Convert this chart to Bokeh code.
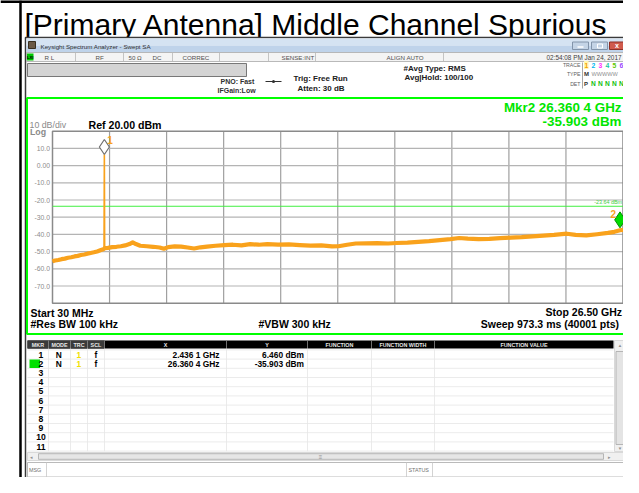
from bokeh.plotting import figure
from bokeh.models import Range1d
from bokeh.core.properties import value
from bokeh.embed import file_html
from bokeh.resources import INLINE

# ------------------------------------------------------------------ data
title_text = "[Primary Antenna] Middle Channel Spurious"
start_ghz = 0.03
stop_ghz = 26.50
ref_level_dbm = 20.0
db_per_div = 10.0
n_div = 10
y_tick_values = [10, 0, -10, -20, -30, -40, -50, -60, -70]
y_tick_labels = ["10.0", "0.00", "-10.0", "-20.0", "-30.0", "-40.0", "-50.0", "-60.0", "-70.0"]

freq_ghz = [0.03, 0.15, 0.3, 0.45, 0.6, 0.75, 0.9, 1.05, 1.2, 1.35, 1.5, 1.65, 1.8, 1.95,
            2.1, 2.25, 2.35, 2.42, 2.4361, 2.45, 2.6, 2.8, 3.0, 3.2, 3.4, 3.6, 3.75, 3.9,
            4.1, 4.4, 4.7, 5.0, 5.2, 5.4, 5.7, 6.0, 6.3, 6.6, 6.9, 7.2, 7.6, 8.0, 8.4, 8.8,
            9.2, 9.6, 10.0, 10.5, 11.0, 11.5, 12.0, 12.5, 13.0, 13.3, 13.7, 14.1, 14.6,
            15.1, 15.6, 16.0, 16.5, 17.0, 17.5, 18.0, 18.5, 18.9, 19.3, 19.8, 20.3, 20.8,
            21.3, 21.8, 22.3, 22.8, 23.3, 23.9, 24.3, 24.8, 25.3, 25.8, 26.1, 26.3604, 26.5]
level_dbm = [-55.6, -55.2, -54.9, -54.4, -54.1, -53.6, -53.3, -52.8, -52.5, -52.0, -51.7, -51.2,
             -50.8, -50.4, -49.9, -49.2, -48.8, -48.4, 6.46, -48.0, -47.8, -47.4, -47.2, -46.9,
             -46.4, -45.6, -44.6, -45.6, -46.6, -46.9, -47.2, -47.6, -48.3, -47.4, -47.0, -47.1,
             -47.6, -48.2, -47.5, -47.1, -46.6, -46.2, -46.0, -46.4, -45.7, -46.0, -45.6, -45.9,
             -45.8, -46.2, -46.5, -46.4, -47.0, -46.9, -46.0, -45.3, -45.2, -45.1, -45.3, -45.0,
             -44.8, -44.3, -43.9, -43.3, -42.7, -42.1, -42.5, -42.7, -42.6, -42.2, -41.9, -41.6,
             -41.1, -40.7, -40.3, -39.6, -40.3, -40.6, -39.9, -39.1, -38.5, -37.6, -37.3]

marker_freq_ghz = [2.4361, 26.3604]
marker_level_dbm = [6.460, -35.903]
marker_names = ["1", "2"]
display_line_dbm = -23.64

mkr_readout = ["Mkr2 26.360 4 GHz", "-35.903 dBm"]
table_x = ["2.436 1 GHz", "26.360 4 GHz"]
table_y = ["6.460 dBm", "-35.903 dBm"]

# ------------------------------------------------------------------ layout
PX0, PX1, PY0, PY1 = 0, 623, 0, 477          # picture pixels covered by the canvas
GL, GR, GT, GB = 52.0, 622.5, 130.7, 302.7   # graticule box (picture pixels)

sx = (GR - GL) / (stop_ghz - start_ghz)
sy = (GB - GT) / (n_div * db_per_div)
bottom_dbm = ref_level_dbm - n_div * db_per_div

p = figure(width=PX1 - PX0, height=PY1 - PY0,
           x_range=Range1d(PX0, PX1), y_range=Range1d(PY1, PY0),
           min_border=0, toolbar_location=None, output_backend="svg",
           x_axis_location=None, y_axis_location=None,
           outline_line_color=None, background_fill_color="white",
           border_fill_color="white")
p.grid.visible = False
p.extra_x_ranges = {"freq": Range1d(start_ghz - (GL - PX0) / sx, stop_ghz + (PX1 - GR) / sx)}
p.extra_y_ranges = {"dbm": Range1d(bottom_dbm - (PY1 - GB) / sy, ref_level_dbm + (GT - PY0) / sy)}

FONT = "Liberation Sans"


def box(l, t, r, b, fill, line=None, lw=1.0):
    p.quad(left=[l], right=[r], top=[t], bottom=[b], fill_color=fill,
           line_color=line, line_width=lw)


def txt(x, y, s, size, color="black", bold=False, align="left", baseline="middle", font=FONT):
    p.text(x=[x], y=[y], text=[s], text_font=value(font), text_font_size=value(f"{size}px"),
           text_color=color, text_font_style="bold" if bold else "normal",
           text_align=align, text_baseline=baseline)


def seg(x0, y0, x1, y1, color, lw=1.0):
    p.segment(x0=[x0], y0=[y0], x1=[x1], y1=[y1], line_color=color, line_width=lw)


# cell border + title
seg(0, 1, 640, 1, "black", 3)
seg(20, 0, 20, 500, "black", 2.5)
txt(24, 23.5, title_text, 30)

# window frame
box(25, 37, 628, 495, "white", "#3a3a3a", 1.5)
box(26, 38, 627, 45, "#d5e3f2")
box(26, 45, 627, 52, "#bfd3ea")
box(28, 41, 35, 48, "#6b5a46", "#3a3020")
txt(40, 45.5, "Keysight Spectrum Analyzer - Swept SA", 6.2, "#303030")
box(572, 41.5, 588, 49, "#c4d4e6", "#8294aa")
box(591, 41.5, 607, 49, "#c4d4e6", "#8294aa")
box(609, 41.5, 624, 49, "#d05a4c", "#8e2f26")
seg(577, 46.5, 583, 46.5, "white", 1.5)
box(597, 43.5, 602, 47.5, None, "white", 1)
txt(616.5, 45.3, "x", 7, "white", bold=True, align="center")

# status row
box(26, 52, 627, 61, "#f4f4f4", "#a8a8a8", 0.8)
box(26.5, 53, 33, 60, "#00c800")
txt(29.7, 56.8, "LXI", 4.2, "black", bold=True, align="center")
for xs in [75, 123, 172, 219, 268, 315, 443]:
    seg(xs, 52.5, xs, 60.5, "#b8b8b8", 0.8)
status_items = [(44, "R L"), (95, "RF"), (128, "50 \u03a9"), (152, "DC"), (182, "CORREC"),
                (281, "SENSE:INT"), (386, "ALIGN AUTO")]
for xs, s in status_items:
    txt(xs, 57, s, 6.2, "#505050")
txt(621, 57, "02:54:08 PM Jan 24, 2017", 6.4, "#404040", align="right")

# info area
box(27, 63, 246, 76, "#d4d4d4", "#5a5a5a", 0.8)
txt(220, 81, "PNO: Fast", 7, "#303030", bold=True)
txt(217, 89.6, "IFGain:Low", 7, "#303030", bold=True)
seg(265, 81, 281, 81, "#303030", 1)
p.scatter(x=[273], y=[81], marker="circle", size=3, fill_color="#303030", line_color=None)
txt(293, 77.5, "Trig: Free Run", 8, "#202020", bold=True)
txt(297, 87.5, "Atten: 30 dB", 8, "#202020", bold=True)
txt(403, 67.5, "#Avg Type: RMS", 8, "#202020", bold=True)
txt(404, 77.3, "Avg|Hold: 100/100", 8, "#202020", bold=True)
txt(580, 64.5, "TRACE", 5.2, "#606060", align="right")
txt(580, 73.5, "TYPE", 5.2, "#606060", align="right")
txt(580, 83, "DET", 5.2, "#606060", align="right")
seg(582, 62, 582, 88, "#909090", 0.8)
box(583.5, 60.5, 588, 68.5, "#fff6b0")
trace_cols = ["#f5a000", "#00b8f0", "#ff30ff", "#20c8a0", "#60c800", "#9a48ff"]
for i, c in enumerate(trace_cols):
    txt(585.8 + i * 7, 64.8, str(i + 1), 6.8, c, bold=True, align="center")
txt(583.5, 73.5, "M", 6, "#303030", bold=True)
txt(591, 73.5, "WWWWW", 5.6, "#909090")
txt(583.5, 83, "P", 6, "#303030", bold=True)
for i in range(5):
    txt(592.8 + i * 7, 83, "N", 6.6, "#10c010", bold=True, align="center")

# measurement panel
box(26.5, 97.5, 623.5, 333.5, None, "#00ff00", 2)
txt(621, 106.5, mkr_readout[0], 13.4, "#00e600", bold=True, align="right")
txt(621, 120.5, mkr_readout[1], 13.4, "#00e600", bold=True, align="right")
txt(29, 124.5, "10 dB/div", 8.8, "#8a8a8a")
txt(88, 124, "Ref 20.00 dBm", 10.6, "black", bold=True)
txt(29.5, 131.5, "Log", 8.8, "#8a8a8a", bold=True)

# graticule from data ticks
f_ticks = [start_ghz + i * (stop_ghz - start_ghz) / n_div for i in range(n_div + 1)]
d_ticks = [ref_level_dbm - i * db_per_div for i in range(n_div + 1)]
p.segment(x0=f_ticks[1:-1], y0=[bottom_dbm] * (n_div - 1), x1=f_ticks[1:-1],
          y1=[ref_level_dbm] * (n_div - 1), x_range_name="freq", y_range_name="dbm",
          line_color="#a0a0a0", line_width=1.2)
p.segment(x0=[start_ghz] * (n_div - 1), y0=d_ticks[1:-1], x1=[stop_ghz] * (n_div - 1),
          y1=d_ticks[1:-1], x_range_name="freq", y_range_name="dbm",
          line_color="#b4b4b4", line_width=1.2)
p.quad(left=[start_ghz], right=[stop_ghz], top=[ref_level_dbm], bottom=[bottom_dbm],
       x_range_name="freq", y_range_name="dbm", fill_color=None, line_color="#8a8a8a",
       line_width=1.5)
p.text(x=[GL - 2.5] * len(y_tick_values), y=y_tick_values, text=y_tick_labels,
       y_range_name="dbm", text_font=value(FONT), text_font_size=value("6.8px"),
       text_color="#8c8c8c", text_align="right", text_baseline="middle")

# display line
p.segment(x0=[start_ghz], y0=[display_line_dbm], x1=[stop_ghz], y1=[display_line_dbm],
          x_range_name="freq", y_range_name="dbm", line_color="#40f040", line_width=1)
p.text(x=[stop_ghz], y=[display_line_dbm], text=[f"{display_line_dbm:.2f} dBm"],
       x_range_name="freq", y_range_name="dbm", text_font=value(FONT),
       text_font_size=value("5.4px"), text_color="#40d040", text_align="right",
       text_baseline="bottom", x_offset=-1, y_offset=-1)

# spectrum trace
peak_i = level_dbm.index(max(level_dbm))
band_f = [f for i, f in enumerate(freq_ghz) if i != peak_i]
band_l = [l for i, l in enumerate(level_dbm) if i != peak_i]
p.line(freq_ghz, level_dbm, x_range_name="freq", y_range_name="dbm",
       line_color="#f9a21c", line_width=1.6)
p.line(band_f, band_l, x_range_name="freq", y_range_name="dbm",
       line_color="#f9a21c", line_width=4.2, line_join="round")

# markers (diamond sits on top of the marked point)
half_px = 7.5
mk_y = [lv + half_px / sy for lv in marker_level_dbm]
p.scatter(x=marker_freq_ghz[:1], y=mk_y[:1], x_range_name="freq", y_range_name="dbm",
          marker="diamond", size=15, fill_color="white", line_color="#707070", line_width=1.2)
p.scatter(x=marker_freq_ghz[1:], y=mk_y[1:], x_range_name="freq", y_range_name="dbm",
          marker="diamond", size=16, fill_color="#00dd00", line_color="#009000", line_width=1)
p.text(x=marker_freq_ghz[:1], y=marker_level_dbm[:1], text=marker_names[:1],
       x_range_name="freq", y_range_name="dbm", text_font=value(FONT),
       text_font_size=value("10px"), text_color="#f9a21c", text_font_style="bold",
       x_offset=3, y_offset=-10, text_baseline="bottom")
p.text(x=marker_freq_ghz[1:], y=marker_level_dbm[1:], text=marker_names[1:],
       x_range_name="freq", y_range_name="dbm", text_font=value(FONT),
       text_font_size=value("10px"), text_color="#f9a21c", text_font_style="bold",
       x_offset=-4, y_offset=-9, text_align="right", text_baseline="bottom")

# bottom annotations
txt(30, 312.3, "Start 30 MHz", 10.5, "black", bold=True)
txt(30, 323.8, "#Res BW 100 kHz", 10.5, "black", bold=True)
txt(258, 323.8, "#VBW 300 kHz", 10.5, "black", bold=True)
txt(621.5, 311.8, "Stop 26.50 GHz", 10.5, "black", bold=True, align="right")
txt(621.5, 323.8, "Sweep  973.3 ms (40001 pts)", 10.5, "black", bold=True, align="right")

# marker table
box(27, 338, 626, 477, "white")
col_edges = [27, 48, 70, 87, 104, 226, 307, 371, 434, 613]
box(27, 340, 613, 348, "#000000")
box(27, 340, 104, 348, "#3a3a3a")
for xe in col_edges[1:-1]:
    seg(xe, 340, xe, 348, "#8c8c8c", 0.8)
headers = ["MKR", "MODE", "TRC", "SCL", "X", "Y", "FUNCTION", "FUNCTION WIDTH", "FUNCTION VALUE"]
for i, h in enumerate(headers):
    txt((col_edges[i] + col_edges[i + 1]) / 2, 344.2, h, 5.4, "#e8e8e8", bold=True, align="center")
row_h = 9.2
row0 = 354.0
for k in range(12):
    yb = row0 - row_h / 2 + k * row_h
    seg(27, yb, 613, yb, "#e6e6e6", 0.8)
for xe in col_edges[1:-1]:
    seg(xe, 348, xe, row0 + 10.5 * row_h, "#e6e6e6", 0.8)
box(29, row0 + row_h - 4.3, 39.5, row0 + row_h + 4.3, "#00e000")
for k in range(11):
    txt(40.5, row0 + k * row_h, str(k + 1), 8.6, "black", bold=True, align="center")
for k in range(2):
    yk = row0 + k * row_h
    txt(58.3, yk, "N", 8.4, "black", bold=True, align="center")
    txt(78.3, yk, "1", 8.4, "#f0e000", bold=True, align="center")
    txt(95.5, yk, "f", 8.4, "black", bold=True, align="center")
    txt(219, yk, table_x[k], 8.4, "black", bold=True, align="right")
    txt(303.5, yk, table_y[k], 8.4, "black", bold=True, align="right")

# scrollbars
box(614, 340, 625, 451, "#f0f0f0", "#d0d0d0", 0.8)
box(615.5, 351, 623.5, 444, "#e4e4e4", "#a8a8a8", 0.8)
txt(619.5, 344.5, "\u25b2", 4.5, "#909090", align="center")
txt(619.5, 447.5, "\u25bc", 4.5, "#909090", align="center")
box(27, 452, 626, 460, "#f0f0f0", "#d0d0d0", 0.8)
box(38, 453.2, 603, 458.8, "#e6e6e6", "#a8a8a8", 0.8)
txt(320, 456, "\u2261", 6, "#909090", align="center")
txt(31, 456, "\u25c2", 5, "#909090", align="center")
txt(609, 456, "\u25b8", 5, "#909090", align="center")

# message bar
box(27, 462, 626, 476.5, "white", "#a8a8a8", 0.8)
seg(46, 462, 46, 476.5, "#c8c8c8", 0.8)
seg(406, 462, 406, 476.5, "#c8c8c8", 0.8)
seg(432, 462, 432, 476.5, "#c8c8c8", 0.8)
txt(28.5, 469, "MSG", 5.4, "#707070")
txt(408, 469, "STATUS", 5.4, "#707070")

open("out.html", "w").write(file_html(p, INLINE))
